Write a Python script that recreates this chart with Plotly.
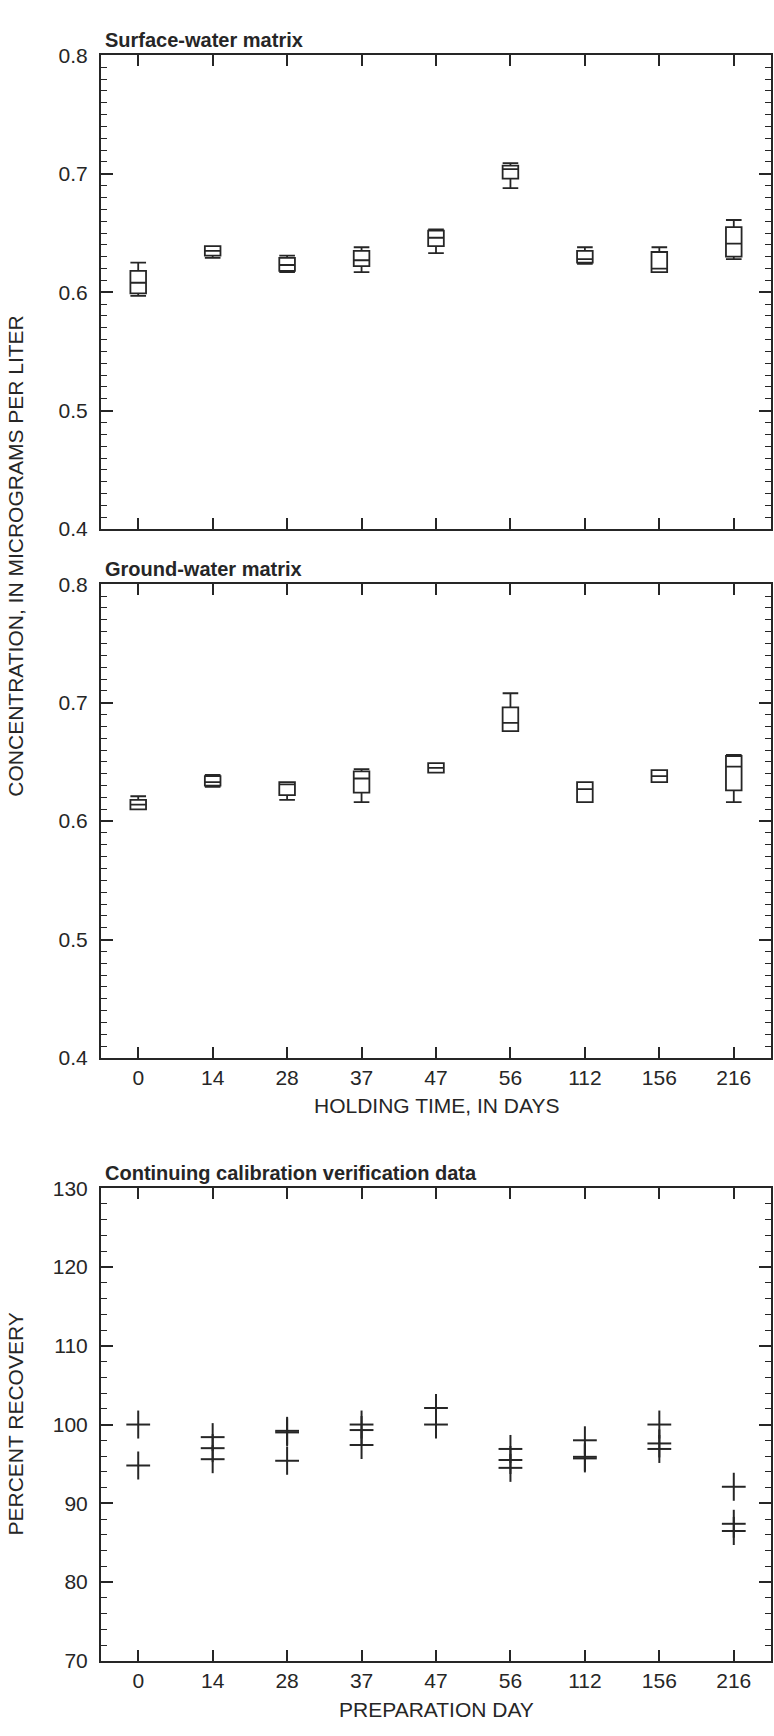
import plotly.graph_objects as go

# ---------------- data ----------------
days = ["0", "14", "28", "37", "47", "56", "112", "156", "216"]

# Surface-water matrix box statistics (micrograms per liter)
sw_low    = [0.597, 0.629, 0.617, 0.617, 0.633, 0.688, 0.624, 0.617, 0.628]
sw_q1     = [0.599, 0.631, 0.618, 0.622, 0.639, 0.696, 0.625, 0.617, 0.630]
sw_median = [0.608, 0.635, 0.623, 0.627, 0.646, 0.704, 0.628, 0.620, 0.641]
sw_q3     = [0.618, 0.639, 0.629, 0.635, 0.652, 0.707, 0.635, 0.634, 0.655]
sw_high   = [0.625, 0.639, 0.631, 0.638, 0.653, 0.709, 0.638, 0.638, 0.661]

# Ground-water matrix box statistics (micrograms per liter)
gw_low    = [0.610, 0.629, 0.618, 0.616, 0.641, 0.676, 0.616, 0.633, 0.616]
gw_q1     = [0.610, 0.630, 0.622, 0.624, 0.641, 0.676, 0.616, 0.633, 0.626]
gw_median = [0.614, 0.633, 0.631, 0.636, 0.645, 0.683, 0.627, 0.638, 0.646]
gw_q3     = [0.618, 0.638, 0.633, 0.642, 0.649, 0.696, 0.633, 0.643, 0.655]
gw_high   = [0.621, 0.639, 0.633, 0.644, 0.649, 0.708, 0.633, 0.643, 0.656]

# Continuing calibration verification data (percent recovery)
ccv_day   = ["0", "0", "14", "14", "14", "28", "28", "28", "37", "37", "37",
             "47", "47", "56", "56", "56", "112", "112", "112",
             "156", "156", "156", "216", "216", "216"]
ccv_value = [100.0, 94.8, 98.4, 97.0, 95.6, 99.2, 99.0, 95.4, 100.0, 99.3, 97.4,
             102.1, 100.0, 96.9, 95.5, 94.5, 98.0, 95.9, 95.7,
             100.0, 97.6, 96.9, 92.1, 87.4, 86.5]

# ---------------- style ----------------
INK = "#262626"
FONT = "Liberation Sans, Arial, Helvetica, sans-serif"
W, H = 774, 1736

def px_x(p):
    return p / W

def px_y(p):
    return 1 - p / H

X0, X1 = 101, 771
panels = {
    "top": (44, 524),
    "mid": (580, 1060),
    "bot": (1192, 1671),
}

pos = {d: i for i, d in enumerate(days)}

fig = go.Figure()

def add_boxes(low, q1, med, q3, high, xa, ya):
    fig.add_trace(go.Box(
        x=[pos[d] for d in days], lowerfence=low, q1=q1, median=med, q3=q3, upperfence=high,
        xaxis=xa, yaxis=ya, width=0.21, whiskerwidth=1,
        fillcolor="white", line=dict(color=INK, width=1.8),
        boxpoints=False, showlegend=False, hoverinfo="skip",
    ))

add_boxes(sw_low, sw_q1, sw_median, sw_q3, sw_high, "x", "y")
add_boxes(gw_low, gw_q1, gw_median, gw_q3, gw_high, "x2", "y2")

ccv_x = [pos[d] for d in ccv_day]
fig.add_trace(go.Scatter(
    x=ccv_x, y=ccv_value, mode="markers", xaxis="x3", yaxis="y3",
    marker=dict(symbol="line-ew", size=17, line=dict(color=INK, width=2)),
    showlegend=False, hoverinfo="skip"))
fig.add_trace(go.Scatter(
    x=ccv_x, y=ccv_value, mode="markers", xaxis="x3", yaxis="y3",
    marker=dict(symbol="line-ns", size=20, line=dict(color=INK, width=2)),
    showlegend=False, hoverinfo="skip"))

tickfont = dict(family=FONT, size=21, color=INK)
titlefont = dict(family=FONT, size=21, color=INK)

def xaxis_cfg(labels):
    return dict(
        domain=[px_x(X0), px_x(X1)], range=[-0.5, 8.5],
        tickmode="array", tickvals=list(range(len(days))),
        ticktext=days if labels else [""] * len(days),
        showticklabels=labels,
        ticks="inside", ticklen=11, tickwidth=1.5, tickcolor=INK,
        showline=True, linecolor=INK, linewidth=2, mirror="ticks",
        showgrid=False, zeroline=False, tickfont=tickfont, fixedrange=True,
    )

def yaxis_cfg(panel, rng, dtick, minor, fmt):
    t, b = panels[panel]
    return dict(
        domain=[px_y(b), px_y(t)], range=rng,
        dtick=dtick, tick0=rng[0], tickformat=fmt,
        ticks="inside", ticklen=12, tickwidth=1.5, tickcolor=INK,
        ticklabelstandoff=7,
        minor=dict(dtick=minor, ticks="inside", ticklen=6, tickwidth=1.3, tickcolor=INK, showgrid=False),
        showline=True, linecolor=INK, linewidth=2, mirror="ticks",
        showgrid=False, zeroline=False, tickfont=tickfont, fixedrange=True,
    )

fig.update_layout(
    width=W, height=H, margin=dict(l=0, r=0, t=0, b=0),
    paper_bgcolor="white", plot_bgcolor="white",
    xaxis=dict(xaxis_cfg(False), anchor="y"),
    yaxis=dict(yaxis_cfg("top", [0.4, 0.8], 0.1, 0.01, ".1f"), anchor="x"),
    xaxis2=dict(xaxis_cfg(True), anchor="y2"),
    yaxis2=dict(yaxis_cfg("mid", [0.4, 0.8], 0.1, 0.01, ".1f"), anchor="x2"),
    xaxis3=dict(xaxis_cfg(True), anchor="y3"),
    yaxis3=dict(yaxis_cfg("bot", [70, 130], 10, 2, "d"), anchor="x3"),
)

titles = [("Surface-water matrix", "top"), ("Ground-water matrix", "mid"),
          ("Continuing calibration verification data", "bot")]
for text, p in titles:
    t, _ = panels[p]
    fig.add_annotation(text=text, xref="paper", yref="paper", x=px_x(X0 + 2), y=px_y(t - 2),
                       xanchor="left", yanchor="bottom", showarrow=False,
                       font=dict(family=FONT, size=20, color=INK, weight="bold"))

# x-axis titles
fig.add_annotation(text="HOLDING TIME, IN DAYS", xref="paper", yref="paper",
                   x=px_x((X0 + X1) / 2), y=px_y(1108), xanchor="center", yanchor="middle",
                   showarrow=False, font=titlefont)
fig.add_annotation(text="PREPARATION DAY", xref="paper", yref="paper",
                   x=px_x((X0 + X1) / 2), y=px_y(1720), xanchor="center", yanchor="middle",
                   showarrow=False, font=titlefont)

# y-axis titles
fig.add_annotation(text="CONCENTRATION, IN MICROGRAMS PER LITER", xref="paper", yref="paper",
                   x=px_x(16), y=px_y((panels["top"][0] + panels["mid"][1]) / 2),
                   textangle=-90, showarrow=False, xanchor="center", yanchor="middle",
                   font=titlefont)
fig.add_annotation(text="PERCENT RECOVERY", xref="paper", yref="paper",
                   x=px_x(16), y=px_y((panels["bot"][0] + panels["bot"][1]) / 2),
                   textangle=-90, showarrow=False, xanchor="center", yanchor="middle",
                   font=titlefont)

fig.write_html("out.html")
